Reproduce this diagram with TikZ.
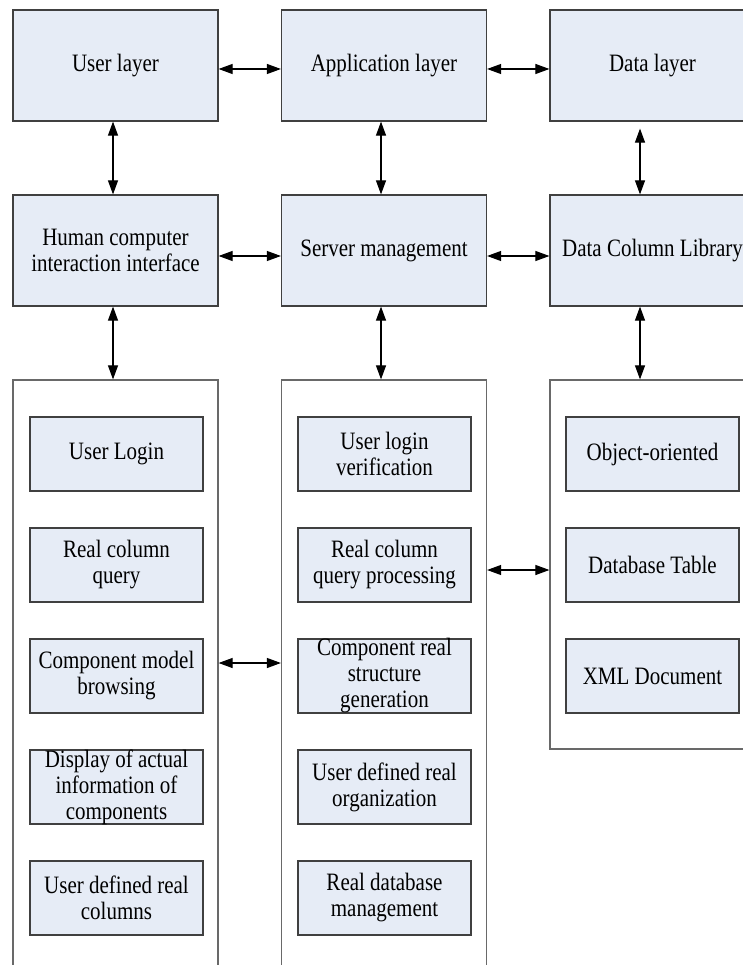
\documentclass[tikz,border=0pt]{standalone}
\usepackage{fontspec}
\setmainfont{Liberation Serif}[FakeStretch=0.84]
\usetikzlibrary{arrows.meta}
\definecolor{boxFill}{RGB}{230,236,246}
\definecolor{boxLine}{RGB}{64,64,64}
\definecolor{colLine}{RGB}{105,105,105}
\tikzset{
    boxText/.style={align=center, font=\fontsize{25}{26}\selectfont},
    layerBox/.style={draw=boxLine, fill=boxFill, line width=1.2pt, minimum width=205pt, minimum height=111pt, inner sep=0pt, boxText},
    colBox/.style={draw=colLine, line width=1.2pt, minimum width=205pt, minimum height=#1, inner sep=0pt},
    itemBox/.style={draw=boxLine, fill=boxFill, line width=1.2pt, minimum width=173pt, minimum height=74pt, inner sep=0pt, label={[boxText]center:#1}},
    link/.style={{Triangle[length=14pt,width=10pt]}-{Triangle[length=14pt,width=10pt]}, line width=1.1pt}
}
\begin{document}
\begin{tikzpicture}[x=1pt, y=-1pt]
    \useasboundingbox (0,0) rectangle (743,965);
    \clip (0,0) rectangle (743,965);
    \node[layerBox] (user) at (115.5,65.5) {User layer};
    \node[layerBox] (app) at (384,65.5) {Application layer};
    \node[layerBox] (data) at (652.5,65.5) {Data layer};
    \node[layerBox] (hci) at (115.5,250.5) {Human computer\\interaction interface};
    \node[layerBox] (server) at (384,250.5) {Server management};
    \node[layerBox] (library) at (652.5,250.5) {Data Column Library};

    \node[colBox=600pt] (userCol) at (115.5,680) {};
    \node[colBox=600pt] (serverCol) at (384,680) {};
    \node[colBox=369pt] (dataCol) at (652.5,564.5) {};

    \node[itemBox={User Login}] (login) at (116.5,454) {};
    \node[itemBox={Real column\\query}] (query) at (116.5,565) {};
    \node[itemBox={Component model\\browsing}] (browse) at (116.5,676) {};
    \node[itemBox={Display of actual\\information of\\components}] (display) at (116.5,787) {};
    \node[itemBox={User defined real\\columns}] (columns) at (116.5,898) {};

    \node[itemBox={User login\\verification}] (verify) at (384.5,454) {};
    \node[itemBox={Real column\\query processing}] (process) at (384.5,565) {};
    \node[itemBox={Component real\\structure\\generation}] (generate) at (384.5,676) {};
    \node[itemBox={User defined real\\organization}] (organize) at (384.5,787) {};
    \node[itemBox={Real database\\management}] (manage) at (384.5,898) {};

    \node[itemBox={Object-oriented}] (object) at (652.5,454) {};
    \node[itemBox={Database Table}] (table) at (652.5,565) {};
    \node[itemBox={XML Document}] (xml) at (652.5,676) {};

    \draw[link] ([yshift=-3.5pt]user.east) -- ([yshift=-3.5pt]app.west);
    \draw[link] ([yshift=-3.5pt]app.east) -- ([yshift=-3.5pt]data.west);
    \draw[link] ([yshift=-5.5pt]hci.east) -- ([yshift=-5.5pt]server.west);
    \draw[link] ([yshift=-5.5pt]server.east) -- ([yshift=-5.5pt]library.west);

    \draw[link] ([xshift=-2.5pt]user.south) -- ([xshift=-2.5pt]hci.north);
    \draw[link] ([xshift=-3pt]app.south) -- ([xshift=-3pt]server.north);
    \draw[link, shorten <=7pt] ([xshift=-12.5pt]data.south) -- ([xshift=-12.5pt]library.north);
    \draw[link] ([xshift=-2.5pt]hci.south) -- ([xshift=-2.5pt]userCol.north);
    \draw[link] ([xshift=-3pt]server.south) -- ([xshift=-3pt]serverCol.north);
    \draw[link] ([xshift=-12.5pt]library.south) -- ([xshift=-12.5pt]dataCol.north);

    \draw[link] (userCol.east |- 0,663) -- (serverCol.west |- 0,663);
    \draw[link] (serverCol.east |- 0,570) -- (dataCol.west |- 0,570);
\end{tikzpicture}
\end{document}
